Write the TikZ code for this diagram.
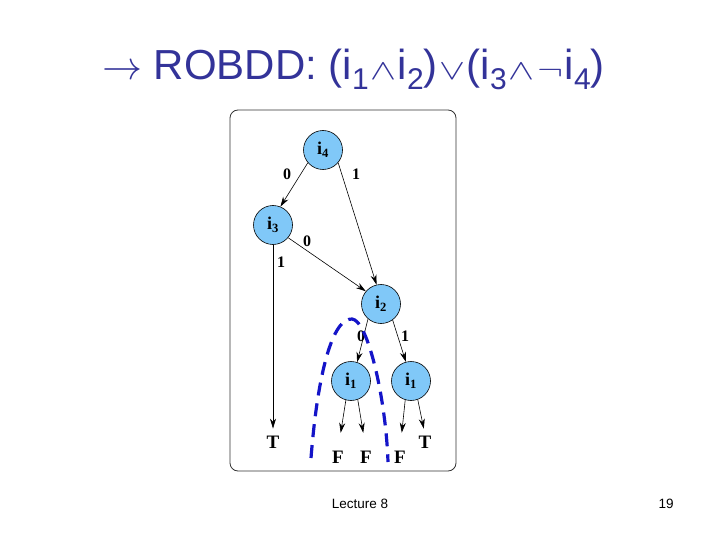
\RequirePackage{fix-cm}
\documentclass[tikz,border=0pt]{standalone}
\usepackage{fontspec}
\usepackage{graphicx}
\setmainfont{Liberation Serif}
\newfontfamily\slidefont{Liberation Sans}
\usetikzlibrary{arrows.meta}
\definecolor{titleblue}{RGB}{51,51,153}
\definecolor{nodeblue}{RGB}{128,200,248}
\definecolor{cutblue}{RGB}{20,20,200}
\newcommand\tsub[1]{\raisebox{-10pt}{\fontsize{30}{30}\selectfont #1}}
\newcommand\opsym[1]{\hspace{1.5pt}\scalebox{1.5}[1.1]{\fontsize{26}{26}\selectfont$#1$}\hspace{1.5pt}}

\begin{document}
\begin{tikzpicture}[x=1pt,y=-1pt,
  bdd/.style={circle,draw,line width=.6pt,fill=nodeblue,minimum size=39pt,inner sep=0pt,
    font=\fontsize{18}{18}\selectfont\bfseries},
  term/.style={inner sep=1pt,font=\fontsize{19}{19}\selectfont\bfseries},
  lbl/.style={font=\fontsize{16}{16}\selectfont\bfseries},
  edge/.style={-{Stealth[length=10pt,width=6pt]},line width=.6pt,shorten >=6pt},
  tofalse/.style={edge,shorten >=17pt},
  cut/.style={cutblue,line width=3.2pt,dash pattern=on 13pt off 8pt}]
\useasboundingbox (0,0) rectangle (720,540);
% title
\node[titleblue,anchor=base west,inner sep=0pt,font=\slidefont\fontsize{42}{42}\selectfont] (title) at (102,80)
  {{\fontsize{40}{40}\selectfont$\rightarrow$} ROBDD: (i\tsub{1}\opsym{\wedge}i\tsub{2})\opsym{\vee}(i\tsub{3}\opsym{\wedge}\opsym{\neg}i\tsub{4})};
% frame
\draw[black!80,line width=.8pt,rounded corners=8pt] (230,110) rectangle (456,471);
% decision nodes
\node[bdd] (i4) at (323,150) {i\textsubscript{4}};
\node[bdd] (i3) at (273,225) {i\textsubscript{3}};
\node[bdd] (i2) at (381,304) {i\textsubscript{2}};
\node[bdd] (i1a) at (351,381) {i\textsubscript{1}};
\node[bdd] (i1b) at (411,381) {i\textsubscript{1}};
% terminals
\node[term] (tl) at (273,442) {T};
\node[term] (fa) at (338,457) {F};
\node[term] (fb) at (366,457) {F};
\node[term] (fc) at (400,457) {F};
\node[term] (tr) at (425,442) {T};
% edges
\draw[edge,shorten >=0pt] (i4.220) -- (i3.68);
\draw[edge,shorten >=0pt] (i4.-40) -- (i2.103);
\draw[edge,shorten >=0pt] (i3.-40) -- (i2.140);
\draw[edge] (i3.south) -- (tl.north);
\draw[edge,shorten >=0pt] (i2.229) -- (i1a.72);
\draw[edge,shorten >=0pt] (i2.-54) -- (i1b.105);
\draw[tofalse] (i1a.-105) -- (fa.north);
\draw[tofalse] (i1a.-70) -- (fb.north);
\draw[tofalse] (i1b.-107) -- (fc.north);
\draw[edge] (i1b.-70) -- (tr.north);
% edge labels
\node[lbl] (l40) at (287,174) {0};
\node[lbl] (l41) at (356,174) {1};
\node[lbl] (l30) at (307,241) {0};
\node[lbl] (l31) at (281,262) {1};
\node[lbl] (l20) at (361,336) {0};
\node[lbl] (l21) at (405,336) {1};
% cut line
\draw[cut] (311,458) .. controls (318,370) and (333,318) .. (352,319)
  .. controls (368,320) and (386,400) .. (388,462);
% footer
\node[font=\slidefont\fontsize{13.5}{14}\selectfont] (lect) at (360,504) {Lecture 8};
\node[font=\slidefont\fontsize{13.5}{14}\selectfont] (page) at (666,504) {19};
\end{tikzpicture}
\end{document}
